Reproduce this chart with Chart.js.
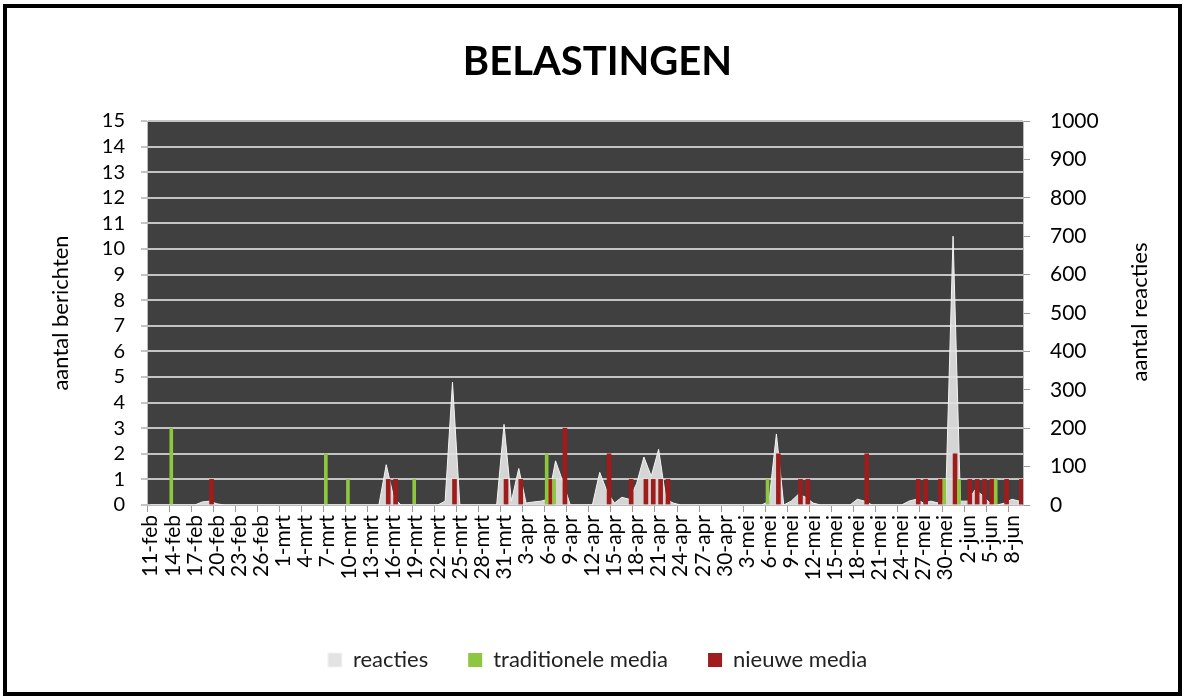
<!DOCTYPE html>
<html><head><meta charset="utf-8">
<script src="https://cdn.jsdelivr.net/npm/chart.js@4/dist/chart.umd.min.js"></script>
<style>
html,body{margin:0;padding:0;background:#fff;}
#wrap{position:absolute;left:0;top:0;width:1185px;height:697px;}
#frame{position:absolute;left:3px;top:4px;width:1171px;height:684px;border:4px solid #000;pointer-events:none;}
</style></head><body>
<div id="wrap"><canvas id="c" width="1185" height="697"></canvas></div>
<div id="frame"></div>
<script>
const categories = [
 '11-feb','12-feb','13-feb','14-feb','15-feb','16-feb','17-feb','18-feb','19-feb','20-feb','21-feb','22-feb','23-feb','24-feb','25-feb','26-feb','27-feb','28-feb',
 '1-mrt','2-mrt','3-mrt','4-mrt','5-mrt','6-mrt','7-mrt','8-mrt','9-mrt','10-mrt','11-mrt','12-mrt','13-mrt','14-mrt','15-mrt','16-mrt','17-mrt','18-mrt','19-mrt','20-mrt','21-mrt','22-mrt','23-mrt','24-mrt','25-mrt','26-mrt','27-mrt','28-mrt','29-mrt','30-mrt','31-mrt',
 '1-apr','2-apr','3-apr','4-apr','5-apr','6-apr','7-apr','8-apr','9-apr','10-apr','11-apr','12-apr','13-apr','14-apr','15-apr','16-apr','17-apr','18-apr','19-apr','20-apr','21-apr','22-apr','23-apr','24-apr','25-apr','26-apr','27-apr','28-apr','29-apr','30-apr',
 '1-mei','2-mei','3-mei','4-mei','5-mei','6-mei','7-mei','8-mei','9-mei','10-mei','11-mei','12-mei','13-mei','14-mei','15-mei','16-mei','17-mei','18-mei','19-mei','20-mei','21-mei','22-mei','23-mei','24-mei','25-mei','26-mei','27-mei','28-mei','29-mei','30-mei','31-mei',
 '1-jun','2-jun','3-jun','4-jun','5-jun','6-jun','7-jun','8-jun','9-jun'
];

// reacties (right axis)
const reactiesFeb = [0,0,0,0,0,0,0,8,10,3,0,0,0,0,0,0,0,0];
const reactiesMrt = [0,0,0,0,0, 0,0,0,0,0, 0,0,0,0,105, 20,0,0,0,0, 0,0,10,320,0, 0,0,0,0,0, 210];
const reactiesApr = [10,95,5,8,10, 15,115,60,0,0, 0,0,85,35,5, 20,15,55,125,75, 145,15,5,0,0, 0,0,0,0,0];
const reactiesMei = [0,0,0,0,0, 10,185,0,10,28, 20,5,0,0,0, 0,0,15,10,0, 0,0,0,0,10, 15,5,10,5,15, 700];
const reactiesJun = [10,10,40,25,5,0,5,15,10];

// traditionele media (left axis)
const tradFeb = [0,0,0,3,0,0,0,0,0,0,0,0,0,0,0,0,0,0];
const tradMrt = [0,0,0,0,0, 0,2,0,0,1, 0,0,0,0,0, 0,0,0,1,0, 0,0,0,0,0, 0,0,0,0,0, 0];
const tradApr = [0,0,0,0,0, 2,1,0,0,0, 0,0,0,0,0, 0,0,0,0,0, 0,0,0,0,0, 0,0,0,0,0];
const tradMei = [0,0,0,0,0, 1,0,0,0,0, 0,0,0,0,0, 0,0,0,0,0, 0,0,0,0,0, 0,0,0,0,1, 0];
const tradJun = [1,0,0,0,0,1,0,0,0];

// nieuwe media (left axis)
const nieuwFeb = [0,0,0,0,0,0,0,0,1,0,0,0,0,0,0,0,0,0];
const nieuwMrt = [0,0,0,0,0, 0,0,0,0,0, 0,0,0,0,1, 1,0,0,0,0, 0,0,0,1,0, 0,0,0,0,0, 1];
const nieuwApr = [0,1,0,0,0, 1,0,3,0,0, 0,0,0,2,0, 0,1,0,1,1, 1,1,0,0,0, 0,0,0,0,0];
const nieuwMei = [0,0,0,0,0, 0,2,0,0,1, 1,0,0,0,0, 0,0,0,2,0, 0,0,0,0,0, 1,1,0,1,0, 2];
const nieuwJun = [0,1,1,1,1,0,1,0,1];

const leftTicks = [0,1,2,3,4,5,6,7,8,9,10,11,12,13,14,15];
const rightTicks = [0,100,200,300,400,500,600,700,800,900,1000];

const reacties = [].concat(reactiesFeb, reactiesMrt, reactiesApr, reactiesMei, reactiesJun);
const trad = [].concat(tradFeb, tradMrt, tradApr, tradMei, tradJun);
const nieuw = [].concat(nieuwFeb, nieuwMrt, nieuwApr, nieuwMei, nieuwJun);

const FONT = 'Lato';

const bgPlugin = {
  id: 'bg',
  beforeDraw(chart) {
    const {ctx, chartArea: a} = chart;
    ctx.save();
    ctx.fillStyle = '#fff';
    ctx.fillRect(0, 0, chart.width, chart.height);
    ctx.fillStyle = '#404040';
    ctx.fillRect(a.left, a.top, a.right - a.left, a.bottom - a.top);
    ctx.restore();
  },
  afterDraw(chart) {
    const {ctx} = chart;
    ctx.save();
    ctx.translate(1140, 312);
    ctx.rotate(-Math.PI / 2);
    ctx.font = '22px ' + FONT;
    ctx.fillStyle = '#000';
    ctx.textAlign = 'center';
    ctx.textBaseline = 'middle';
    ctx.fillText('aantal reacties', 0, 0);
    ctx.restore();
  }
};

new Chart(document.getElementById('c'), {
  type: 'bar',
  data: {
    labels: categories,
    datasets: [
      {type: 'line', label: 'reacties', data: reacties, yAxisID: 'y1', fill: 'origin',
       backgroundColor: 'rgba(225,225,225,0.93)', borderColor: '#f4f4f4', borderWidth: 1,
       pointRadius: 0, tension: 0, order: 2},
      {label: 'traditionele media', data: trad.map(v => (v === 0 ? null : v)), yAxisID: 'y',
       backgroundColor: '#8dc63f', borderWidth: 0, barThickness: 3, order: 1},
      {label: 'nieuwe media', data: nieuw.map(v => (v === 0 ? null : v)), yAxisID: 'y',
       backgroundColor: '#a01c1c', borderWidth: 0, barThickness: 4, order: 1}
    ]
  },
  options: {
    responsive: false,
    animation: false,
    layout: {padding: {left: 10, right: 0, top: 0, bottom: 16}},
    plugins: {
      title: {display: true, text: 'BELASTINGEN', color: '#000',
              font: {family: FONT, size: 40, weight: 'bold'}, padding: {top: 38, bottom: 35}},
      legend: {position: 'bottom',
               labels: {font: {family: FONT, size: 22}, color: '#222', boxWidth: 14, boxHeight: 14, padding: 40,
                        sort: (a, b) => a.datasetIndex - b.datasetIndex}},
      tooltip: {enabled: false}
    },
    scales: {
      x: {
        grid: {offset: true, drawOnChartArea: false, tickLength: 7,
               color: (ctx) => (ctx.index % 3 === 0 ? '#999' : 'rgba(0,0,0,0)')},
        border: {color: '#bbb'},
        ticks: {autoSkip: false, maxRotation: 90, minRotation: 90, padding: 3,
                font: {family: FONT, size: 21}, color: '#000',
                callback: function (v, i) { return i % 3 === 0 ? categories[i] : ''; }},
        afterFit: (s) => { s.height = 104; }
      },
      y: {
        position: 'left', min: 0, max: 15,
        afterBuildTicks: (s) => { s.ticks = leftTicks.map(v => ({value: v})); },
        ticks: {autoSkip: false, font: {family: FONT, size: 20}, color: '#000', padding: 16,
                callback: (v) => String(v)},
        grid: {color: '#c4c4c4', lineWidth: 2, tickLength: 6},
        border: {color: '#bbb'},
        title: {display: true, text: 'aantal berichten', color: '#000', font: {family: FONT, size: 22},
                padding: {top: 38, bottom: 4}},
        afterFit: (s) => { s.width = 137; }
      },
      y1: {
        position: 'right', min: 0, max: 1000,
        afterBuildTicks: (s) => { s.ticks = rightTicks.map(v => ({value: v})); },
        ticks: {autoSkip: false, font: {family: FONT, size: 21}, color: '#000', padding: 20,
                callback: (v) => String(v)},
        grid: {drawOnChartArea: false, tickLength: 7, color: '#999'},
        border: {color: '#bbb'},
        afterFit: (s) => { s.width = 162; }
      }
    }
  },
  plugins: [bgPlugin]
});
</script>
</body></html>
